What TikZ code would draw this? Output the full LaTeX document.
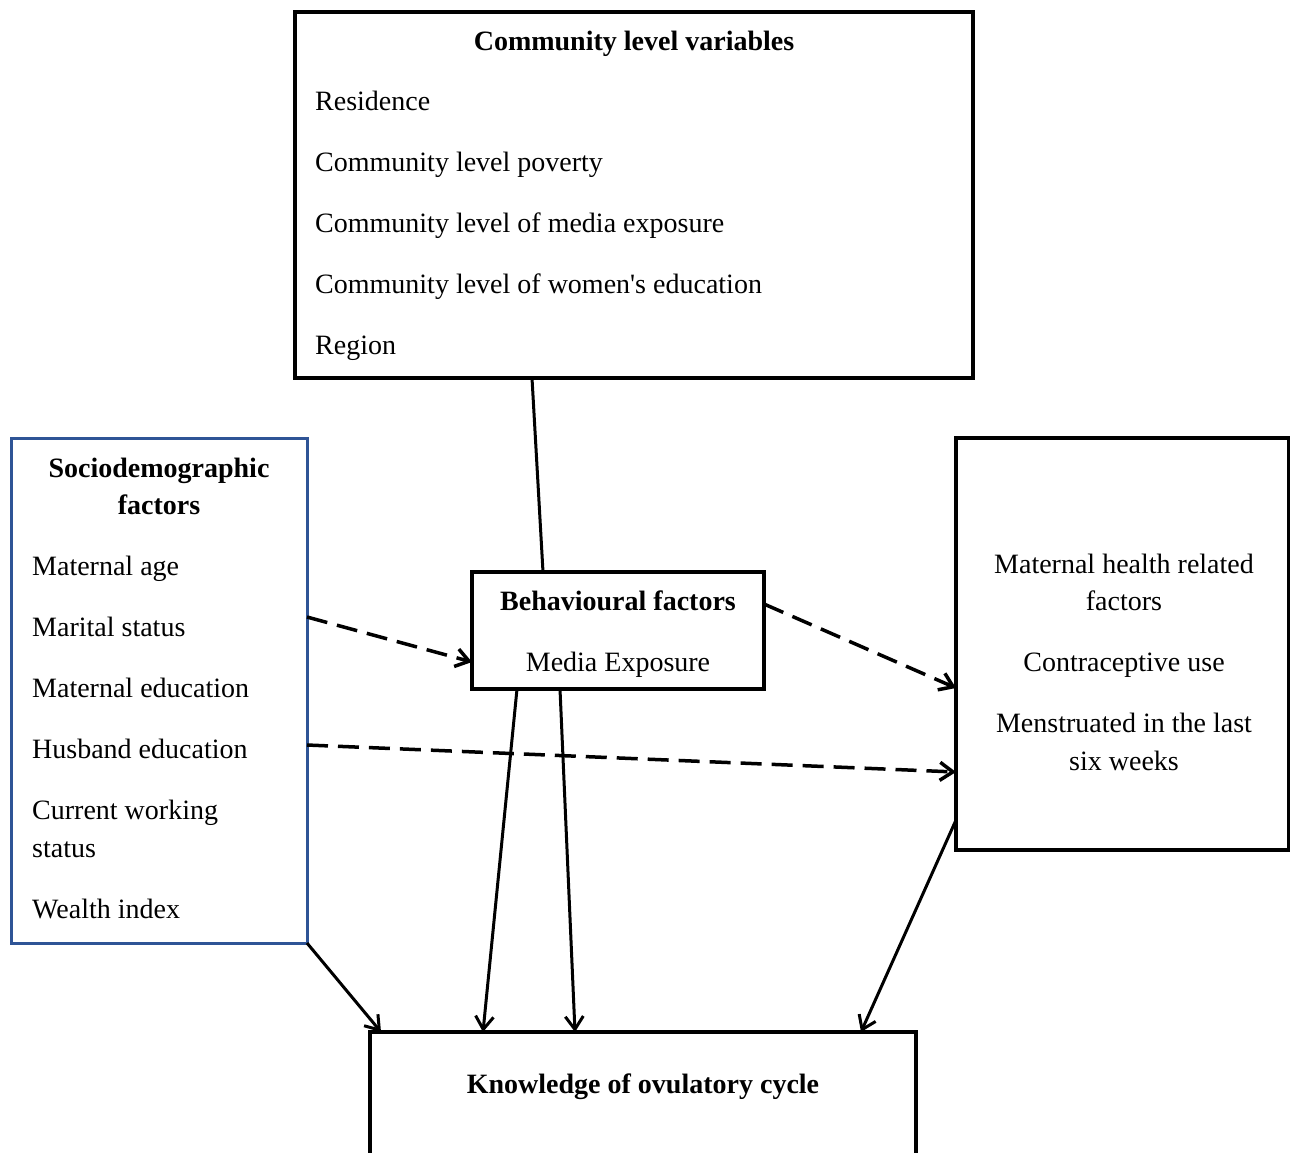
\documentclass[tikz,border=0pt]{standalone}
\usepackage{fontspec}
\setmainfont{Liberation Serif}
\usetikzlibrary{arrows.meta,calc}
\definecolor{sdblue}{RGB}{47,84,150}
\begin{document}
\begin{tikzpicture}[x=1pt,y=-1pt,
  box/.style={draw,line width=3.5pt,rectangle,inner sep=0pt,outer sep=0pt,anchor=north west},
  txt/.style={font=\fontsize{28}{34}\selectfont,inner sep=0pt},
  ttl/.style={inner sep=0pt,font=\fontsize{28}{34}\selectfont\bfseries},
  link/.style={line width=3pt,-{Straight Barb[length=13pt,width=18pt]}},
  dlink/.style={line width=3.5pt,dash pattern=on 21pt off 10pt,-{Straight Barb[length=13pt,width=18pt]}},
]
\useasboundingbox (0,0) rectangle (1290,1152);
\clip (0,0) rectangle (1290,1152);

% boxes
\node[box,minimum width=678pt,minimum height=366pt] (comm) at (295,12) {};
\node[box,draw=sdblue,line width=3pt,minimum width=296pt,minimum height=505pt] (socio) at (11,438) {};
\node[box,minimum width=292pt,minimum height=117pt] (behav) at (472,572) {};
\node[box,minimum width=333pt,minimum height=412pt] (mat) at (956,438) {};
\node[box,minimum width=546pt,minimum height=200pt] (know) at (370,1032) {};

% community texts
\node[ttl,anchor=base] (commT) at (634,50) {Community level variables};
\node[txt,anchor=base west] (c1) at (315,110) {Residence};
\node[txt,anchor=base west] (c2) at (315,171) {Community level poverty};
\node[txt,anchor=base west] (c3) at (315,232) {Community level of media exposure};
\node[txt,anchor=base west] (c4) at (315,293) {Community level of women\textquotesingle s education};
\node[txt,anchor=base west] (c5) at (315,354) {Region};

% sociodemographic texts
\node[ttl,anchor=base] (sT1) at (159,477) {Sociodemographic};
\node[ttl,anchor=base] (sT2) at (159,514) {factors};
\node[txt,anchor=base west] (s1) at (32,575) {Maternal age};
\node[txt,anchor=base west] (s2) at (32,636) {Marital status};
\node[txt,anchor=base west] (s3) at (32,697) {Maternal education};
\node[txt,anchor=base west] (s4) at (32,758) {Husband education};
\node[txt,anchor=base west] (s5) at (32,819) {Current working};
\node[txt,anchor=base west] (s6) at (32,857) {status};
\node[txt,anchor=base west] (s7) at (32,918) {Wealth index};

% behavioural texts
\node[ttl,anchor=base] (bT) at (618,610) {Behavioural factors};
\node[txt,anchor=base] (b1) at (618,671) {Media Exposure};

% maternal health texts
\node[txt,anchor=base] (m1) at (1124,573) {Maternal health related};
\node[txt,anchor=base] (m2) at (1124,610) {factors};
\node[txt,anchor=base] (m3) at (1124,671) {Contraceptive use};
\node[txt,anchor=base] (m4) at (1124,732) {Menstruated in the last};
\node[txt,anchor=base] (m5) at (1124,770) {six weeks};

% knowledge text
\node[ttl,anchor=base] (kT) at (643,1093) {Knowledge of ovulatory cycle};

% connectors
\draw[line width=3pt] ($(comm.south west)+(237,0)$) -- ($(behav.north west)+(71,0)$);
\draw[dlink] ($(socio.north east)+(0,179)$) -- ($(behav.north west)+(0,90)$);
\draw[dlink] ($(behav.north east)+(0,32)$) -- ($(mat.north west)+(0,250)$);
\draw[dlink] ($(socio.north east)+(0,307)$) -- ($(mat.north west)+(0,334)$);
\draw[link] ($(behav.south west)+(45,0)$) -- ($(know.north west)+(113,0)$);
\draw[link] ($(behav.south west)+(88,0)$) -- ($(know.north west)+(205,0)$);
\draw[link] (socio.south east) -- ($(know.north west)+(11,0)$);
\draw[link] ($(mat.north west)+(0,382)$) -- ($(know.north west)+(491,0)$);
\end{tikzpicture}
\end{document}
